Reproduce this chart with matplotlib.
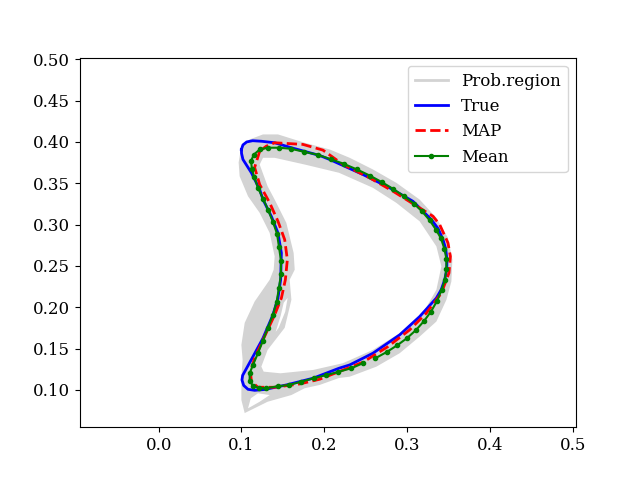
import numpy as np
import matplotlib.pyplot as plt
from matplotlib.patches import PathPatch
from matplotlib.path import Path

plt.rcParams['font.family'] = 'DejaVu Serif'
plt.rcParams['font.size'] = 12

region_outer_x = [.0978, .0966, .0999, .1099, .1260, .1441, .1763, .2065, .2307, .2588, .2871, .3152, .3354, .3494, .3547, .3535, .3475, .3354, .3152, .2911, .2629, .2307, .2178, .1944, .1763, .1603, .1316, .1039, .0999, .0999, .1014, .0999, .1039, .1159, .1341, .1389, .1401, .1341, .1220, .1079]
region_outer_y = [.3585, .3752, .3949, .4030, .4091, .4091, .3990, .3909, .3808, .3667, .3505, .3303, .3081, .2839, .2576, .2313, .2091, .1828, .1646, .1445, .1282, .1161, .1145, .1061, .1021, .0939, .0858, .0721, .0879, .1161, .1364, .1545, .1812, .2070, .2333, .2455, .2616, .2899, .3142, .3343]
region_inner_x = [.1220, .1260, .1401, .1763, .2178, .2588, .2871, .3152, .3354, .3414, .3354, .3192, .2911, .2588, .2226, .1864, .1470, .1268, .1240, .1316, .1522, .1603, .1582, .1643, .1630, .1542, .1401, .1316]
region_inner_y = [.3727, .3808, .3808, .3727, .3627, .3445, .3263, .3040, .2737, .2495, .2212, .1930, .1687, .1485, .1324, .1242, .1202, .1222, .1283, .1485, .1752, .2091, .2333, .2455, .2657, .3021, .3303, .3464]
loop_hole_x = [.1079, .1112, .1199, .1341, .1220]
loop_hole_y = [.0778, .0899, .0960, .0939, .0858]
sliver_hole_x = [.1558, .1528, .1449, .1413, .1473, .1510]
sliver_hole_y = [.2115, .1945, .1752, .1703, .1897, .2055]

true_x = [.0999, .1018, .1063, .1135, .1244, .1401, .1603, .1944, .2065, .2467, .2790, .3071, .3293, .3375, .3434, .3466, .3482, .3479, .3454, .3412, .3354, .3152, .2911, .2588, .2307, .2178, .1864, .1542, .1280, .1159, .1079, .1027, .1006, .1014, .1039, .1139, .1260, .1380, .1441, .1473, .1482, .1441, .1361, .1260, .1220, .1120, .1018, .1001, .0999]
true_y = [.3909, .3964, .4000, .4015, .4008, .3990, .3930, .3836, .3788, .3606, .3445, .3282, .3061, .2952, .2818, .2709, .2576, .2455, .2333, .2212, .2112, .1888, .1667, .1445, .1303, .1263, .1142, .1061, .1006, .0996, .1008, .1055, .1121, .1176, .1222, .1404, .1627, .1909, .2112, .2333, .2657, .2899, .3100, .3303, .3424, .3627, .3788, .3861, .3909]

map_x = [.1220, .1301, .1401, .1743, .1984, .2226, .2548, .2830, .3152, .3313, .3394, .3494, .3523, .3506, .3414, .3233, .3031, .2769, .2467, .2178, .1944, .1703, .1401, .1199, .1120, .1108, .1159, .1260, .1401, .1482, .1530, .1554, .1522, .1441, .1341, .1220, .1159, .1220]
map_y = [.3888, .3949, .3990, .3970, .3901, .3727, .3566, .3404, .3202, .3101, .3000, .2778, .2616, .2415, .2172, .1930, .1727, .1525, .1336, .1222, .1130, .1073, .1033, .1033, .1101, .1222, .1384, .1606, .1909, .2112, .2333, .2576, .2818, .3040, .3263, .3485, .3691, .3888]

mean_x = [.2617, .2757, .2883, .2999, .3107, .3204, .3289, .3361, .3418, .3454, .3475, .3475, .3450, .3409, .3349, .3273, .3180, .3083, .2963, .2830, .2697, .2548, .2395, .2234, .2086, .1924, .1755, .1594, .1453, .1320, .1220, .1151, .1115, .1127, .1156, .1199, .1260, .1320, .1380, .1429, .1453, .1477, .1477, .1453, .1425, .1380, .1320, .1260, .1199, .1139, .1099, .1099, .1139, .1211, .1301, .1446, .1574, .1723, .1872, .2017, .2165, .2327, .2467]
mean_y = [.1384, .1461, .1542, .1627, .1724, .1833, .1949, .2075, .2212, .2325, .2463, .2588, .2709, .2834, .2939, .3052, .3161, .3255, .3343, .3433, .3513, .3594, .3667, .3736, .3788, .3845, .3881, .3918, .3930, .3930, .3909, .3848, .3772, .3667, .3570, .3445, .3315, .3182, .3033, .2891, .2730, .2564, .2406, .2233, .2070, .1909, .1755, .1598, .1445, .1303, .1202, .1109, .1052, .1021, .1024, .1045, .1061, .1101, .1142, .1178, .1218, .1263, .1324]

xticks = [0.0, 0.1, 0.2, 0.3, 0.4, 0.5]
yticks = [0.10, 0.15, 0.20, 0.25, 0.30, 0.35, 0.40, 0.45, 0.50]


def closed_path(xs, ys):
    pts = np.column_stack([xs + xs[:1], ys + ys[:1]])
    codes = [Path.MOVETO] + [Path.LINETO] * (len(xs) - 1) + [Path.CLOSEPOLY]
    return Path(pts, codes)


fig, ax = plt.subplots(figsize=(6.4, 4.8), dpi=100)

# holes run the opposite way round so they stay empty
region = Path.make_compound_path(
    closed_path(region_outer_x, region_outer_y),
    closed_path(region_inner_x[::-1], region_inner_y[::-1]),
    closed_path(loop_hole_x[::-1], loop_hole_y[::-1]),
    closed_path(sliver_hole_x[::-1], sliver_hole_y[::-1]),
)
ax.add_patch(PathPatch(region, facecolor='lightgray', edgecolor='none'))
ax.plot([], [], color='lightgray', lw=2, label='Prob.region')

ax.plot(true_x, true_y, color='b', lw=2, label='True')
ax.plot(map_x, map_y, color='r', lw=2, ls='--', label='MAP')
ax.plot(mean_x, mean_y, color='g', lw=1.5, marker='.', ms=6, label='Mean')

ax.set_xlim(-0.095, 0.504)
ax.set_ylim(0.055, 0.502)
ax.set_xticks(xticks)
ax.set_yticks(yticks)
ax.set_xticklabels(['%.1f' % t for t in xticks])
ax.set_yticklabels(['%.2f' % t for t in yticks])
ax.legend(loc='upper right')

fig.savefig('out.png', dpi=100)
